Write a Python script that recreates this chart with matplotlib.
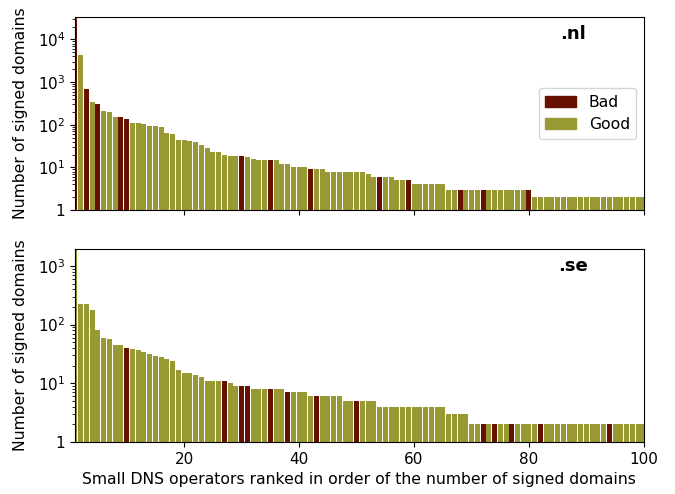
import matplotlib
matplotlib.use('Agg')
import matplotlib.pyplot as plt
import matplotlib.ticker as mticker
import numpy as np

# Signed domains per small operator, ranked (1..100)
nl_counts = [34000, 4300, 700, 350, 300, 210, 195, 150, 150, 135,
             110, 110, 103, 92, 92, 87, 63, 60, 45, 43,
             41, 39, 33, 29, 23, 23, 20, 19, 19, 19,
             18, 16, 15, 15, 15, 15, 12, 12, 10, 10,
             10, 9, 9, 9, 8, 8, 8, 8, 8, 8,
             8, 7, 6, 6, 6, 6, 5, 5, 5, 4,
             4, 4, 4, 4, 4, 3, 3, 3, 3, 3,
             3, 3, 3, 3, 3, 3, 3, 3, 3, 3,
             2, 2, 2, 2, 2, 2, 2, 2, 2, 2,
             2, 2, 2, 2, 2, 2, 2, 2, 2, 2]
nl_bad = [1, 3, 5, 9, 10, 30, 35, 42, 54, 59, 68, 72, 80]

se_counts = [1950, 224, 224, 177, 81, 59, 57, 45, 45, 40,
             38, 37, 34, 32, 29, 28, 26, 24, 17, 15,
             15, 14, 13, 11, 11, 11, 11, 10, 9, 9,
             9, 8, 8, 8, 8, 8, 8, 7, 7, 7,
             7, 6, 6, 6, 6, 6, 6, 5, 5, 5,
             5, 5, 5, 4, 4, 4, 4, 4, 4, 4,
             4, 4, 4, 4, 4, 3, 3, 3, 3, 2,
             2, 2, 2, 2, 2, 2, 2, 2, 2, 2,
             2, 2, 2, 2, 2, 2, 2, 2, 2, 2,
             2, 2, 2, 2, 2, 2, 2, 2, 2, 2]
se_bad = [10, 27, 30, 31, 35, 38, 43, 50, 72, 74, 77, 82, 94]

BAD = '#661100'
GOOD = '#999933'


def draw(ax, counts, bad, name, top):
    ranks = np.arange(1, len(counts) + 1)
    colors = [BAD if r in bad else GOOD for r in ranks]
    ax.bar(ranks, counts, width=0.87, color=colors, bottom=0)
    ax.set_yscale('log')
    ax.set_ylim(1, top)
    ax.set_xlim(1, 100)
    ax.yaxis.set_major_formatter(mticker.FuncFormatter(
        lambda v, p: '1' if v == 1 else '$10^{%d}$' % round(np.log10(v))))
    ax.set_ylabel('Number of signed domains', fontsize=11.25, labelpad=7)
    ax.tick_params(labelsize=11)
    ax.text(0.875, 0.91, name, transform=ax.transAxes, fontsize=13,
            fontweight='bold', ha='center', va='center')


fig, (ax1, ax2) = plt.subplots(2, 1, figsize=(6.75, 4.94), dpi=100, sharex=True)
fig.subplots_adjust(left=0.111, right=0.954, top=0.966, bottom=0.105, hspace=0.2)

draw(ax1, nl_counts, nl_bad, '.nl', 34000)
draw(ax2, se_counts, se_bad, '.se', 1950)

ax1.legend(handles=[plt.Rectangle((0, 0), 1, 1, color=BAD),
                    plt.Rectangle((0, 0), 1, 1, color=GOOD)],
           labels=['Bad', 'Good'], loc='center right', fontsize=11.25)

ax2.set_xticks([20, 40, 60, 80, 100])
ax2.set_xlabel('Small DNS operators ranked in order of the number of signed domains',
               fontsize=11.25)

fig.savefig('out.png', dpi=100)
